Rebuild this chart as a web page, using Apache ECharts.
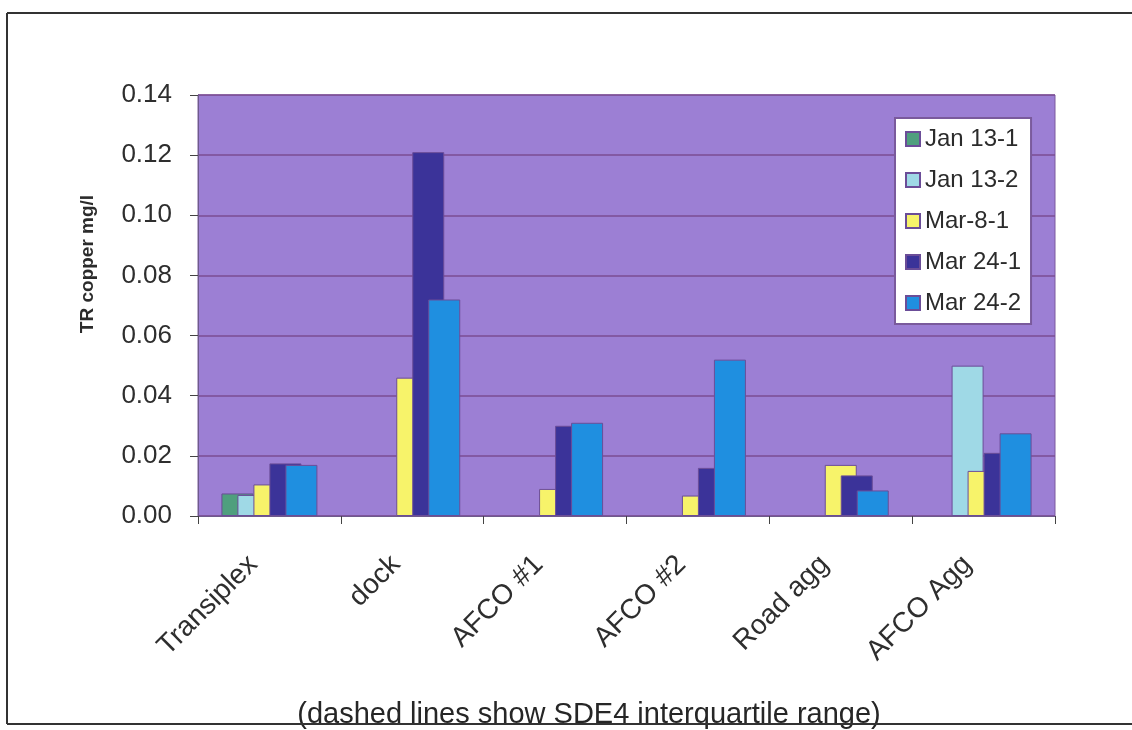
<!DOCTYPE html>
<html>
<head>
<meta charset="utf-8">
<title>TR copper</title>
<script src="https://cdn.jsdelivr.net/npm/echarts@6/dist/echarts.min.js"></script>
<style>
  html, body { margin: 0; padding: 0; background: #ffffff; }
  #chart { width: 1132px; height: 730px; }
</style>
</head>
<body>
<div id="chart"></div>
<script>
// Sampling sites along the category axis
const categories = ['Transiplex', 'dock', 'AFCO #1', 'AFCO #2', 'Road agg', 'AFCO Agg'];

// Total recoverable copper (mg/l) per sampling event
const jan13_1 = [0.0075, null, null, null, null, null];
const jan13_2 = [0.007, null, null, null, null, 0.050];
const mar8_1  = [0.0105, 0.046, 0.009, 0.0068, 0.017, 0.015];
const mar24_1 = [0.0175, 0.121, 0.030, 0.016, 0.0135, 0.021];
const mar24_2 = [0.017, 0.072, 0.031, 0.052, 0.0085, 0.0275];

const seriesNames = ['Jan 13-1', 'Jan 13-2', 'Mar-8-1', 'Mar 24-1', 'Mar 24-2'];
const seriesData = [jan13_1, jan13_2, mar8_1, mar24_1, mar24_2];
const seriesColors = ['#4f9f7e', '#9fd9e6', '#f7f36a', '#3b3399', '#1f8fe0'];

const yTicks = { min: 0, max: 0.14, step: 0.02 };

const FONT = 'Liberation Sans, Arial, sans-serif';

const chart = echarts.init(document.getElementById('chart'), null, { renderer: 'canvas' });

const series = seriesNames.map((name, i) => ({
  name: name,
  type: 'bar',
  data: seriesData[i],
  barWidth: 32,
  barGap: '-50%',
  itemStyle: {
    color: seriesColors[i],
    borderColor: '#6b4d98',
    borderWidth: 1
  },
  emphasis: { disabled: true }
}));

chart.setOption({
  animation: false,
  backgroundColor: '#ffffff',
  textStyle: { fontFamily: FONT },
  grid: {
    left: 198, top: 95, right: 77, bottom: 214,
    show: true,
    backgroundColor: '#9c7fd4',
    borderColor: '#7d5a9e',
    borderWidth: 1
  },
  legend: {
    orient: 'vertical',
    left: 895, top: 118,
    padding: [9, 10, 9, 10],
    backgroundColor: '#ffffff',
    borderColor: '#7a5a9c',
    borderWidth: 2,
    itemWidth: 14, itemHeight: 14,
    itemGap: 17,
    itemTextGap: 8,
    icon: 'rect',
    textStyle: { fontFamily: FONT, fontSize: 24, color: '#2b2b2b' },
    data: seriesNames
  },
  xAxis: {
    type: 'category',
    data: categories,
    axisLine: { lineStyle: { color: '#6e5a8c', width: 1 } },
    axisTick: { show: true, length: 8, lineStyle: { color: '#444' } },
    axisLabel: {
      rotate: 45,
      margin: 28,
      padding: [0, 23, 0, 0],
      fontFamily: FONT,
      fontSize: 28,
      color: '#2e2e2e'
    }
  },
  yAxis: {
    type: 'value',
    min: yTicks.min, max: yTicks.max, interval: yTicks.step,
    axisLine: { show: true, lineStyle: { color: '#6e5a8c', width: 1 } },
    axisTick: { show: true, length: 8, lineStyle: { color: '#444' } },
    axisLabel: {
      margin: 26,
      fontFamily: FONT,
      fontSize: 26,
      color: '#2e2e2e',
      formatter: v => v.toFixed(2)
    },
    splitLine: { show: true, lineStyle: { color: '#7b4c93', width: 1.5 } }
  },
  series: series,
  graphic: [
    // axis title
    {
      type: 'text',
      x: 88, y: 264,
      rotation: Math.PI / 2,
      style: {
        text: 'TR copper mg/l',
        font: 'bold 19px ' + FONT,
        fill: '#2b2b2b',
        textAlign: 'center',
        textVerticalAlign: 'middle'
      }
    },
    // caption under the chart
    {
      type: 'text',
      x: 589, y: 715,
      style: {
        text: '(dashed lines show SDE4 interquartile range)',
        font: '29px ' + FONT,
        fill: '#262626',
        textAlign: 'center',
        textVerticalAlign: 'middle'
      }
    },
    // figure frame
    { type: 'line', shape: { x1: 7, y1: 13, x2: 1132, y2: 13 }, style: { stroke: '#333', lineWidth: 2 } },
    { type: 'line', shape: { x1: 7, y1: 13, x2: 7, y2: 724 }, style: { stroke: '#333', lineWidth: 2 } },
    { type: 'line', shape: { x1: 7, y1: 724, x2: 1132, y2: 724 }, style: { stroke: '#333', lineWidth: 2 } }
  ]
});
</script>
</body>
</html>
